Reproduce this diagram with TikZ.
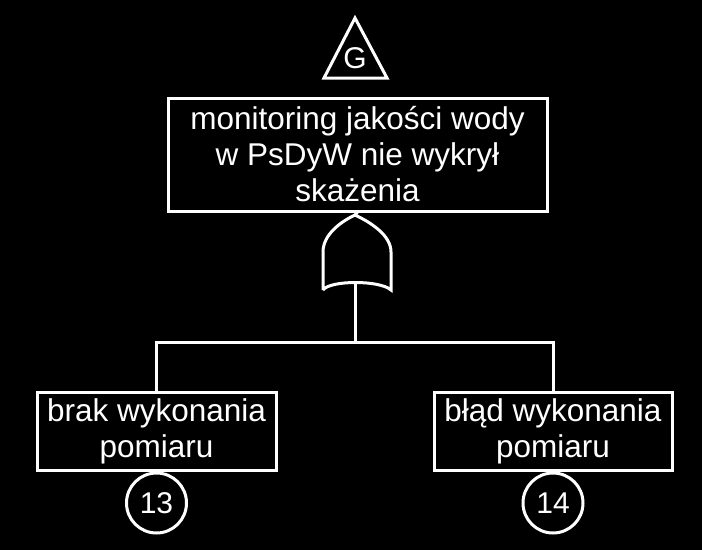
\documentclass[tikz,border=0pt]{standalone}
\usepackage{fontspec}
\setmainfont{Liberation Sans}
\begin{document}
\begin{tikzpicture}[x=1pt,y=-1pt,line width=3pt,
  event/.style={draw=white,fill=black,text=white,align=center,inner sep=0pt,font=\fontsize{31.5}{36}\selectfont},
  num/.style={circle,draw=white,text=white,minimum size=60pt,inner sep=0pt,font=\fontsize{30}{30}\selectfont}]%
  \fill[black] (0,0) rectangle (702,550);
  \useasboundingbox (0,0) rectangle (702,550);
  % transfer symbol
  \draw[white,line join=miter] (355,18) -- (387,78) -- (324,78) -- cycle;
  \node[text=white,font=\fontsize{30}{30}\selectfont] (g) at (355,58) {G};
  % top event
  \node[event,minimum width=379pt,minimum height=113pt] (top) at (357.5,154.5) {monitoring jakości wody\\w PsDyW nie wykrył\\skażenia};
  % OR gate
  \coordinate (gin) at (355,215);
  \coordinate (gout) at (355,282);
  \draw[white] (323,290) -- (323,252) .. controls (323,235) and (340,222) .. (gin)
    .. controls (370,222) and (391,235) .. (391,252) -- (391,290)
    .. controls (380,280) and (330,280) .. (323,290);
  \draw[white] (top.south) -- (gin);
  % children
  \node[event,minimum width=239pt,minimum height=78pt] (e13) at (156.5,431) {brak wykonania\\pomiaru};
  \node[event,minimum width=238pt,minimum height=78pt] (e14) at (553,431) {błąd wykonania\\pomiaru};
  \node[num,anchor=north] (n13) at (e13.south) {13};
  \node[num,anchor=north] (n14) at (e14.south) {14};
  \coordinate (bus) at (355,342);
  \draw[white] (gout) -- (bus);
  \draw[white] (e13.north) |- (bus) -| (e14.north);
\end{tikzpicture}
\end{document}
